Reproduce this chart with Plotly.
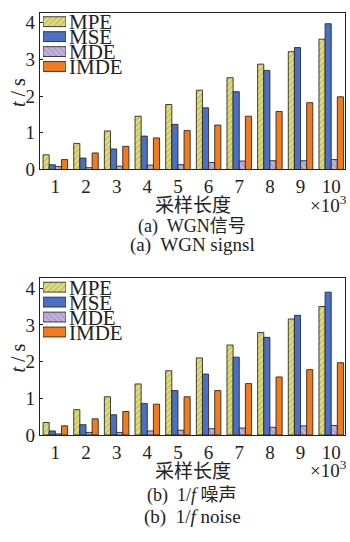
import plotly.graph_objects as go

W, H = 350, 542

categories = [1, 2, 3, 4, 5, 6, 7, 8, 9, 10]
series_names = ["MPE", "MSE", "MDE", "IMDE"]

wgn_mpe = [0.40, 0.71, 1.05, 1.45, 1.77, 2.16, 2.50, 2.87, 3.21, 3.55]
wgn_mse = [0.13, 0.31, 0.56, 0.91, 1.23, 1.68, 2.12, 2.70, 3.32, 3.97]
wgn_mde = [0.08, 0.05, 0.09, 0.12, 0.13, 0.19, 0.23, 0.24, 0.24, 0.27]
wgn_imde = [0.27, 0.45, 0.63, 0.86, 1.06, 1.21, 1.45, 1.58, 1.82, 1.98]

pink_mpe = [0.34, 0.69, 1.04, 1.39, 1.75, 2.10, 2.45, 2.79, 3.16, 3.50]
pink_mse = [0.11, 0.28, 0.55, 0.86, 1.21, 1.66, 2.12, 2.66, 3.26, 3.89]
pink_mde = [0.03, 0.07, 0.07, 0.11, 0.13, 0.17, 0.19, 0.21, 0.25, 0.26]
pink_imde = [0.25, 0.44, 0.64, 0.84, 1.04, 1.21, 1.40, 1.58, 1.78, 1.97]

y_ticks = [0, 1, 2, 3, 4]

styles = {
    "MPE": dict(color="#dcd870", pattern=dict(shape="/", fgcolor="#9c9830", bgcolor="#e2de80", size=4, solidity=0.35)),
    "MSE": dict(color="#4a6fc4", pattern=None),
    "MDE": dict(color="#bcaad8", pattern=dict(shape="\\", fgcolor="#8a74b4", bgcolor="#c4b4de", size=4, solidity=0.35)),
    "IMDE": dict(color="#f47a1e", pattern=None),
}

def px_x(p):
    return p / W

def px_y(p):
    return 1 - p / H

fig = go.Figure()

panels = [
    dict(data=[wgn_mpe, wgn_mse, wgn_mde, wgn_imde], top=13, bottom=173, xa="x", ya="y",
         lx="x3", ly="y3", off=0),
    dict(data=[pink_mpe, pink_mse, pink_mde, pink_imde], top=284, bottom=444, xa="x2", ya="y2",
         lx="x4", ly="y4", off=271),
]

for p in panels:
    for name, vals in zip(series_names, p["data"]):
        st = styles[name]
        marker = dict(color=st["color"], line=dict(color="#2a2a2a", width=0.9))
        if st["pattern"]:
            marker["pattern"] = st["pattern"]
        fig.add_trace(go.Bar(x=categories, y=vals, name=name, marker=marker,
                             xaxis=p["xa"], yaxis=p["ya"], showlegend=False))
    # legend swatches on a small dedicated axis
    for name in series_names:
        st = styles[name]
        marker = dict(color=st["color"], line=dict(color="#2a2a2a", width=0.9))
        if st["pattern"]:
            marker["pattern"] = st["pattern"]
        fig.add_trace(go.Bar(x=[1], y=[name], orientation="h", marker=marker, width=0.66,
                             xaxis=p["lx"], yaxis=p["ly"], showlegend=False, hoverinfo="skip"))

xdom = [px_x(40), px_x(345)]
axis_common = dict(showline=True, linecolor="#222", linewidth=1.2, mirror=True,
                   showgrid=False, zeroline=False,
                   tickfont=dict(family="Liberation Serif", size=19, color="#222"))

layout = dict(width=W, height=H, margin=dict(l=0, r=0, t=0, b=0),
              paper_bgcolor="white", plot_bgcolor="white",
              barmode="group", bargap=0.2, bargroupgap=0, showlegend=False)

for i, p in enumerate(panels):
    xk = "xaxis" if i == 0 else "xaxis2"
    yk = "yaxis" if i == 0 else "yaxis2"
    ydom = [px_y(p["bottom"]), px_y(p["top"])]
    layout[xk] = dict(axis_common, domain=xdom, range=[0.5, 10.45], tickvals=categories,
                      ticks="", anchor=p["ya"])
    layout[yk] = dict(axis_common, domain=ydom, range=[0, 4.27], tickvals=y_ticks,
                      ticks="inside", ticklen=3, tickcolor="#222", anchor=p["xa"])
    lxk = "xaxis3" if i == 0 else "xaxis4"
    lyk = "yaxis3" if i == 0 else "yaxis4"
    layout[lxk] = dict(domain=[px_x(43), px_x(66)], range=[0, 1], visible=False,
                       anchor=p["ly"], fixedrange=True)
    layout[lyk] = dict(domain=[px_y(75.5 + p["off"]), px_y(14.5 + p["off"])],
                       type="category", categoryarray=series_names, categoryorder="array",
                       range=[3.5, -0.5], visible=False, anchor=p["lx"], fixedrange=True)

fig.update_layout(**layout)

serif = "Liberation Serif"
cjk = "Noto Sans CJK SC"
ann = []

def add(xp, yp, text, font, xanchor="center", **kw):
    ann.append(dict(x=px_x(xp), y=px_y(yp), xref="paper", yref="paper", text=text,
                    showarrow=False, xanchor=xanchor, yanchor="middle", font=font, **kw))

for i, p in enumerate(panels):
    off = p["off"]
    for k, name in enumerate(series_names):
        add(67, 22.5 + off + k * 15.3, name, dict(family=serif, size=21, color="#222"), xanchor="left")
    add(18, 95 + off, "<i>t</i> / s", dict(family=serif, size=20, color="#222"), textangle=-90)
    add(193, 208 + off, "采样长度", dict(family=cjk, size=19, color="#222"))
    add(308, 208 + off, "×10<sup>3</sup>", dict(family=serif, size=19, color="#222"), xanchor="left")

add(192, 229, "(a)  WGN<span style='font-family:Noto Sans CJK SC'>信号</span>",
    dict(family=serif, size=18, color="#222"))
add(193, 250, "(a)  WGN signsl", dict(family=serif, size=19, color="#222"))
add(192, 503, "(b)  1/<i>f</i> <span style='font-family:Noto Sans CJK SC'>噪声</span>",
    dict(family=serif, size=18, color="#222"))
add(193, 528, "(b)  1/<i>f</i> noise", dict(family=serif, size=19, color="#222"))

fig.update_layout(annotations=ann)
fig.write_html("out.html")
